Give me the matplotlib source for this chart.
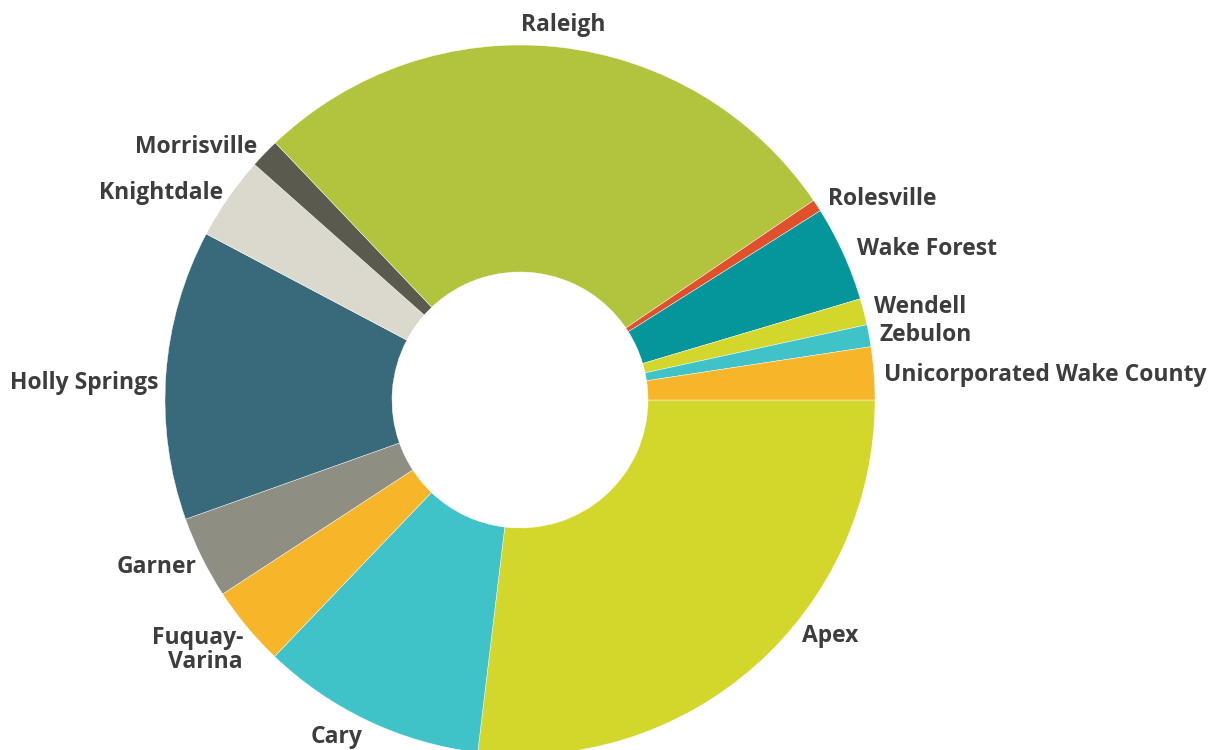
import matplotlib.pyplot as plt

# share of total by municipality (clockwise from 3 o'clock)
towns = ["Apex", "Cary", "Fuquay-Varina", "Garner", "Holly Springs", "Knightdale",
         "Morrisville", "Raleigh", "Rolesville", "Wake Forest", "Wendell", "Zebulon",
         "Unicorporated Wake County"]
shares = [26.9, 10.25, 3.65, 3.75, 13.2, 3.8, 1.35, 27.6, 0.55, 4.35, 1.2, 1.0, 2.4]
colors = ["#d3d72c", "#3fc3c8", "#f7b52a", "#8f8e82", "#386a7b", "#dbd9ce",
          "#5b5a4e", "#b2c43d", "#e0502a", "#04969a", "#d3d72c", "#3fc3c8", "#f7b52a"]

# label anchors in pixel space (x, y from top, horizontal alignment)
label_pos = {
    "Apex": (802, 636, "left"),
    "Cary": (337, 737, "center"),
    "Fuquay-Varina": (243, 650, "right"),
    "Garner": (197, 567, "right"),
    "Holly Springs": (158, 383, "right"),
    "Knightdale": (223, 193, "right"),
    "Morrisville": (257, 147, "right"),
    "Raleigh": (563, 25, "center"),
    "Rolesville": (828, 199, "left"),
    "Wake Forest": (857, 249, "left"),
    "Wendell": (874, 307, "left"),
    "Zebulon": (880, 335, "left"),
    "Unicorporated Wake County": (884, 375, "left"),
}

W, H = 1222, 750
fig = plt.figure(figsize=(W / 100, H / 100), dpi=100)
ax = fig.add_axes([0, 0, 1, 1])

cx, cy, r_out, r_in = 520, H - 400, 355, 128
ax.pie(shares, colors=colors, startangle=0, counterclock=False,
       center=(cx, cy), radius=r_out, frame=True,
       wedgeprops=dict(width=r_out - r_in, edgecolor="white", linewidth=0.3))
ax.set_xlim(0, W)
ax.set_ylim(0, H)
ax.set_aspect("auto")
ax.axis("off")

for name in towns:
    x, y, ha = label_pos[name]
    txt = "Fuquay-\nVarina" if name == "Fuquay-Varina" else name
    ax.text(x, H - y, txt, ha=ha, va="center", fontsize=16.5, fontweight="bold",
            family=["Open Sans", "DejaVu Sans"], color="#3d3d3d",
            linespacing=1.05, multialignment=ha)

fig.savefig("out.png", dpi=100)
